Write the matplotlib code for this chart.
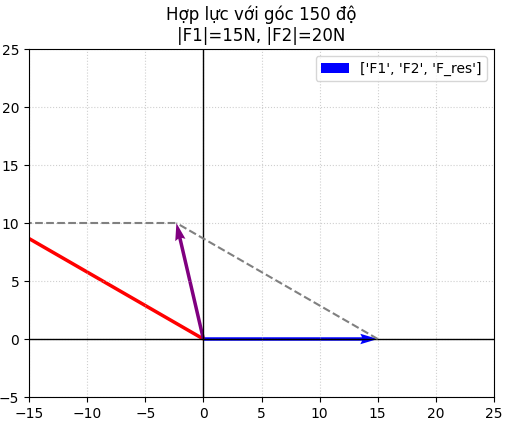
import numpy as np
import matplotlib
matplotlib.use("Agg")
import matplotlib.pyplot as plt

F1_mag = 15
F2_mag = 20
angle_deg = 150
labels = ['F1', 'F2', 'F_res']
colors = ['blue', 'red', 'purple']

theta = np.deg2rad(angle_deg)
F1 = np.array([F1_mag, 0.0])
F2 = np.array([F2_mag * np.cos(theta), F2_mag * np.sin(theta)])
FR = F1 + F2

fig = plt.figure(figsize=(5.09, 4.23), dpi=100)
ax = fig.add_axes([29/509, 1-397/423, (494-29)/509, (397-49)/423])

ax.axhline(0, color='black', linewidth=1)
ax.axvline(0, color='black', linewidth=1)

U = [F1[0], F2[0], FR[0]]
V = [F1[1], F2[1], FR[1]]
ax.quiver([0, 0, 0], [0, 0, 0], U, V, angles='xy', scale_units='xy', scale=1,
          color=colors, label=str(labels))

ax.plot([F1[0], FR[0]], [F1[1], FR[1]], '--', color='gray')
ax.plot([F2[0], FR[0]], [F2[1], FR[1]], '--', color='gray')

ax.set_xlim(-15, 25)
ax.set_ylim(-5, 25)
ax.grid(True, linestyle=':', alpha=0.6)
ax.set_title(f"Hợp lực với góc {angle_deg} độ\n|F1|={F1_mag}N, |F2|={F2_mag}N")
ax.legend(loc='upper right')

fig.savefig('out.png', dpi=100)
